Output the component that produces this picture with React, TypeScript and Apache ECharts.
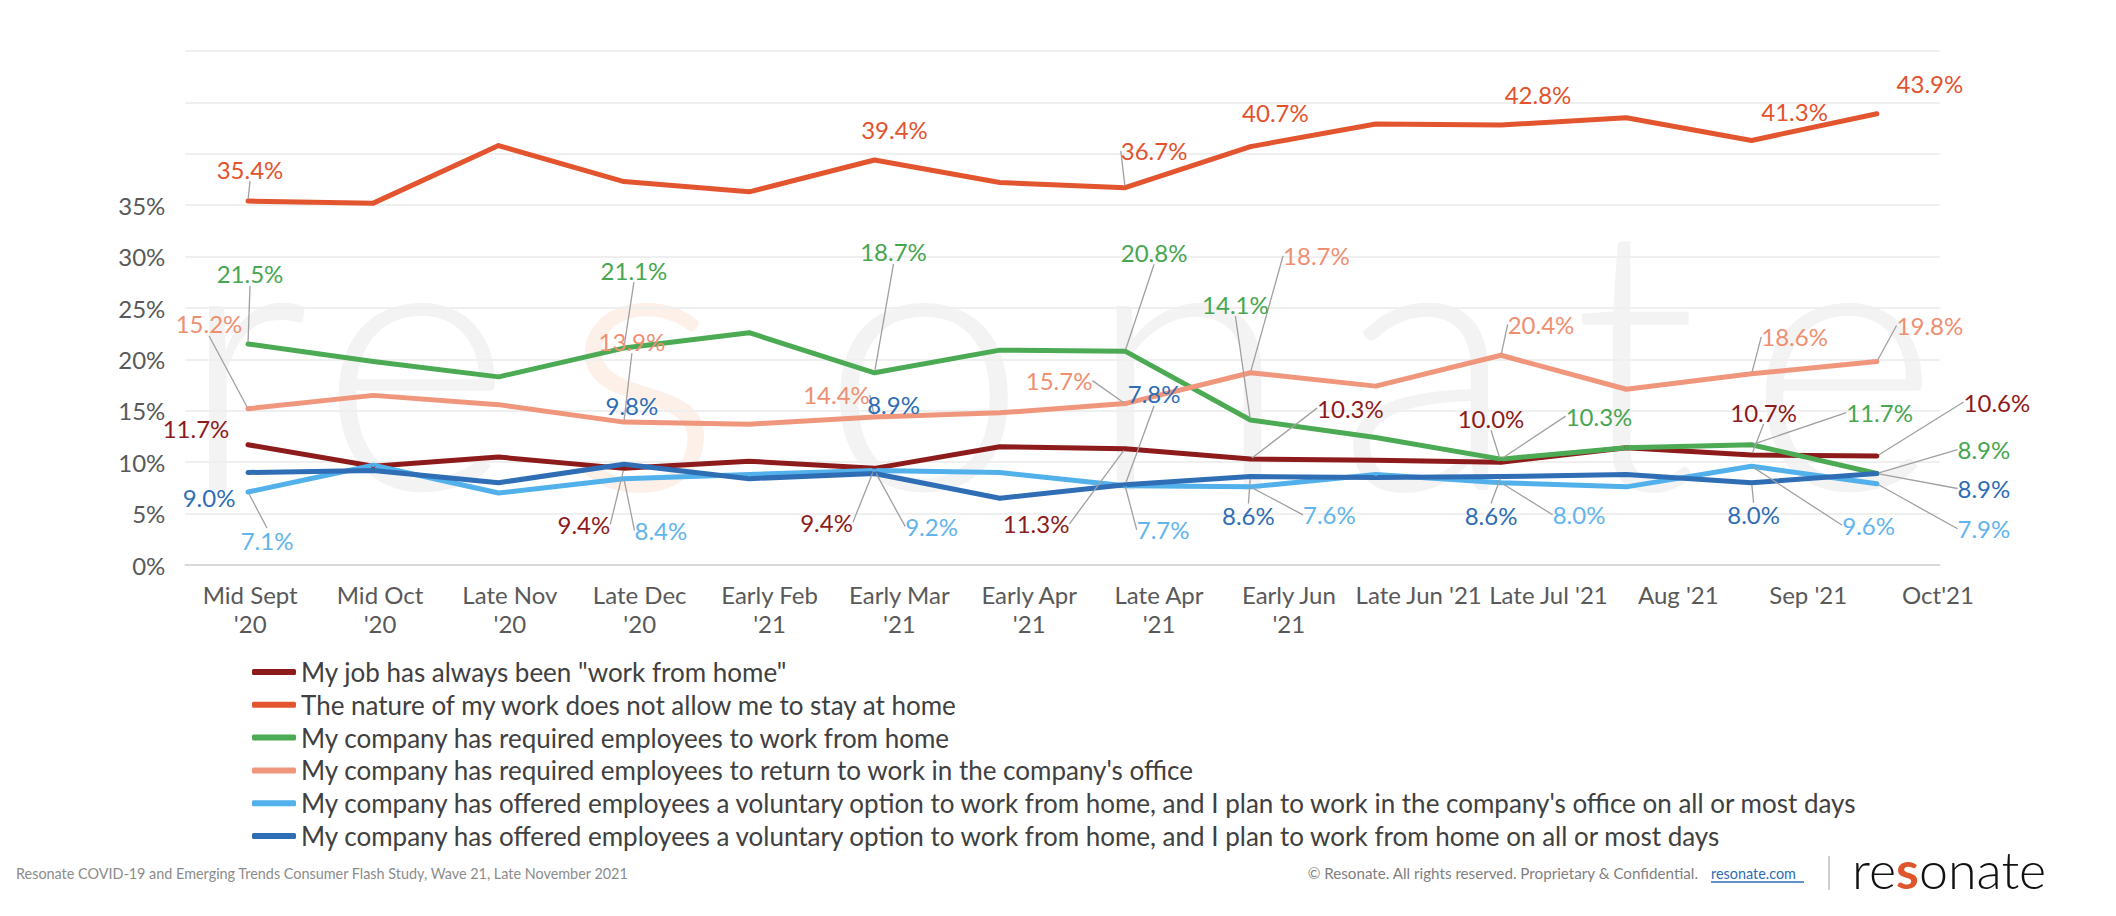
import React, { useEffect, useRef } from "react";
import * as echarts from "echarts";

const categories = [
  "Mid Sept\n'20", "Mid Oct\n'20", "Late Nov\n'20", "Late Dec\n'20", "Early Feb\n'21",
  "Early Mar\n'21", "Early Apr\n'21", "Late Apr\n'21", "Early Jun\n'21", "Late Jun '21",
  "Late Jul '21", "Aug '21", "Sep '21", "Oct'21",
];

const seriesNames = [
  'My job has always been "work from home"',
  "The nature of my work does not allow me to stay at home",
  "My company has required employees to work from home",
  "My company has required employees to return to work in the company's office",
  "My company has offered employees a voluntary option to work from home, and I plan to work in the company's office on all or most days",
  "My company has offered employees a voluntary option to work from home, and I plan to work from home on all or most days",
];

const alwaysWfh = [11.7, 9.6, 10.5, 9.4, 10.1, 9.4, 11.5, 11.3, 10.3, 10.2, 10.0, 11.4, 10.7, 10.6];
const cannotStayHome = [35.4, 35.2, 40.8, 37.3, 36.3, 39.4, 37.2, 36.7, 40.7, 42.9, 42.8, 43.5, 41.3, 43.9];
const requiredWfh = [21.5, 19.8, 18.3, 21.1, 22.6, 18.7, 20.9, 20.8, 14.1, 12.4, 10.3, 11.4, 11.7, 8.9];
const requiredOffice = [15.2, 16.5, 15.6, 13.9, 13.7, 14.4, 14.8, 15.7, 18.7, 17.4, 20.4, 17.1, 18.6, 19.8];
const voluntaryOffice = [7.1, 9.7, 7.0, 8.4, 8.8, 9.2, 9.0, 7.7, 7.6, 8.8, 8.0, 7.6, 9.6, 7.9];
const voluntaryHome = [9.0, 9.2, 8.0, 9.8, 8.4, 8.9, 6.5, 7.8, 8.6, 8.5, 8.6, 8.8, 8.0, 8.9];

const yTicks = [0, 5, 10, 15, 20, 25, 30, 35];

// label placement (dx, dy from point, leader line) per series, by category index
type LP = [number, number, boolean] | null;
const labelPlacement: LP[][] = [
  [[-52, -16, false], null, null, [-40, 56, true], null, [-48, 54, true], null, [-89, 75, true], [100, -51, true], null, [-10, -44, true], null, [12, -43, true], [120, -54, true]],
  [[2, -32, true], null, null, null, null, [20, -30, false], null, [29, -37, true], [25, -34, false], null, [37, -31, false], null, [43, -29, false], [53, -30, false]],
  [[2, -70, true], null, null, [10, -78, true], null, [19, -121, true], null, [29, -99, true], [-15, -116, true], null, [98, -43, true], null, [128, -32, true], [107, -24, true]],
  [[-39, -85, true], null, null, [8, -81, true], null, [-38, -22, true], null, [-66, -23, true], [66, -117, true], null, [40, -31, true], null, [43, -37, true], [53, -36, true]],
  [[19, 48, true], null, null, [37, 52, true], null, [57, 56, true], null, [38, 44, true], [79, 28, true], null, [78, 32, true], null, [117, 59, true], [107, 45, true]],
  [[-39, 25, false], null, null, [8, -59, false], null, [19, -69, false], null, [29, -91, true], [-2, 39, true], null, [-10, 39, true], null, [2, 32, true], [107, 15, true]],
];

const lineColors = ["#8e1b1b", "#e2552f", "#4caa55", "#ef967d", "#52b0ea", "#2f6db5"];
const labelColors = ["#8e1b1b", "#e2532d", "#47a650", "#ef8f72", "#62b4ec", "#2f6db5"];
const seriesValues = [alwaysWfh, cannotStayHome, requiredWfh, requiredOffice, voluntaryOffice, voluntaryHome];

const FONT = "Lato, 'Open Sans', sans-serif";

export default function App() {
  const ref = useRef<HTMLDivElement>(null);
  useEffect(() => {
    if (!ref.current) return;
    const chart = echarts.init(ref.current, undefined, { renderer: "svg" });

    const series = seriesValues.map((vals, si) => {
      const placements = labelPlacement[si];
      return {
        type: "line",
        name: seriesNames[si],
        xAxisIndex: 0,
        yAxisIndex: 0,
        z: 3 + (si === 1 ? 0 : 1),
        data: vals.map((v, i) => {
          const p = placements[i];
          if (!p) return v;
          return { value: v, label: { show: true }, labelLine: { show: p[2] } };
        }),
        symbol: "circle",
        symbolSize: 4,
        showSymbol: true,
        lineStyle: { width: 5, color: lineColors[si], cap: "round", join: "round" },
        itemStyle: { color: lineColors[si] },
        label: {
          show: false,
          position: "inside",
          color: labelColors[si],
          fontSize: 24,
          fontFamily: FONT,
          formatter: (p: any) => Number(p.value).toFixed(1) + "%",
        },
        labelLine: { show: false, lineStyle: { color: "#a0a0a0", width: 1.3 } },
        labelLayout: (params: any) => {
          const p = placements[params.dataIndex];
          return p ? { dx: p[0], dy: p[1] } : {};
        },
        emphasis: { disabled: true },
        silent: true,
      };
    });

    const wm = [
      ["r", 244], ["e", 416], ["s", 643], ["o", 924], ["n", 1188], ["a", 1427], ["t", 1635], ["e", 1843],
    ];

    const option: any = {
      animation: false,
      backgroundColor: "#ffffff",
      grid: [
        { left: 185.35, right: 176.45, top: 51, bottom: 351, outerBoundsMode: "none", containLabel: false },
        { left: 185.3, right: 113.1, top: 51, bottom: 351, outerBoundsMode: "none", containLabel: false },
      ],
      xAxis: [
        {
          type: "category", gridIndex: 0, data: categories, boundaryGap: true,
          axisLine: { show: true, lineStyle: { color: "#d9d9d9", width: 2 } },
          axisTick: { show: false }, axisLabel: { show: false }, splitLine: { show: false },
        },
        {
          type: "category", gridIndex: 1, data: categories, boundaryGap: true,
          axisLine: { show: false }, axisTick: { show: false }, splitLine: { show: false },
          axisLabel: {
            show: true, interval: 0, margin: 15, fontSize: 24, lineHeight: 29,
            color: "#595959", fontFamily: FONT,
          },
        },
      ],
      yAxis: [
        {
          type: "value", gridIndex: 0, min: 0, max: 50, interval: 5,
          axisLine: { show: false }, axisTick: { show: false },
          splitLine: { show: true, lineStyle: { color: "#efefef", width: 2 } },
          axisLabel: {
            margin: 20, fontSize: 24, color: "#595959", fontFamily: FONT,
            formatter: (v: number) => (yTicks.includes(v) ? v + "%" : ""),
          },
        },
        { type: "value", gridIndex: 1, show: false, min: 0, max: 50 },
      ],
      legend: {
        show: true, orient: "vertical", left: 247, top: 653,
        itemWidth: 44, itemHeight: 6, itemGap: 4.8, icon: "roundRect",
        textStyle: { fontSize: 26, lineHeight: 28, color: "#404040", fontFamily: FONT },
        data: seriesNames,
        selectedMode: false,
      },
      series,
      graphic: [
        ...wm.map(([ch, cx]) => ({
          type: "text", x: cx as number, y: 347, z: -10, silent: true,
          style: {
            text: ch as string, fontSize: 370, fontWeight: 300, fontFamily: "Lato",
            fill: ch === "s" ? "#fcf0e9" : "#f3f3f3", align: "center", verticalAlign: "middle",
          },
        })),
        {
          type: "text", x: 16, y: 873, silent: true,
          style: {
            text: "Resonate COVID-19 and Emerging Trends Consumer Flash Study, Wave 21, Late November 2021",
            fontSize: 14.4, fontFamily: FONT, fill: "#8c8c8c", align: "left", verticalAlign: "middle",
          },
        },
        {
          type: "text", x: 1698, y: 873, silent: true,
          style: {
            text: "© Resonate. All rights reserved. Proprietary & Confidential.",
            fontSize: 15.2, fontFamily: FONT, fill: "#7f7f7f", align: "right", verticalAlign: "middle",
          },
        },
        {
          type: "text", x: 1711, y: 873, silent: true,
          style: { text: "resonate.com", fontSize: 14.4, fontFamily: FONT, fill: "#2e6db5", align: "left", verticalAlign: "middle" },
        },
        {
          type: "line", silent: true,
          shape: { x1: 1711, y1: 882, x2: 1804, y2: 882 },
          style: { stroke: "#2e6db5", lineWidth: 1.5 },
        },
        {
          type: "line", silent: true,
          shape: { x1: 1829, y1: 856, x2: 1829, y2: 890 },
          style: { stroke: "#bfbfbf", lineWidth: 1.5 },
        },
        {
          type: "text", x: 1852, y: 869, silent: true,
          style: {
            text: "{a|re}{b|s}{a|onate}",
            align: "left", verticalAlign: "middle",
            rich: {
              a: { fontSize: 52, fontWeight: 300, fontFamily: "Lato", fill: "#111111" },
              b: { fontSize: 52, fontWeight: 700, fontFamily: "Lato", fill: "#e0562c" },
            },
          },
        },
      ],
    };

    chart.setOption(option);
    return () => chart.dispose();
  }, []);

  return (
    <div
      ref={ref}
      style={{ position: "fixed", left: 0, top: 0, width: 2116, height: 916, background: "#fff" }}
    />
  );
}
